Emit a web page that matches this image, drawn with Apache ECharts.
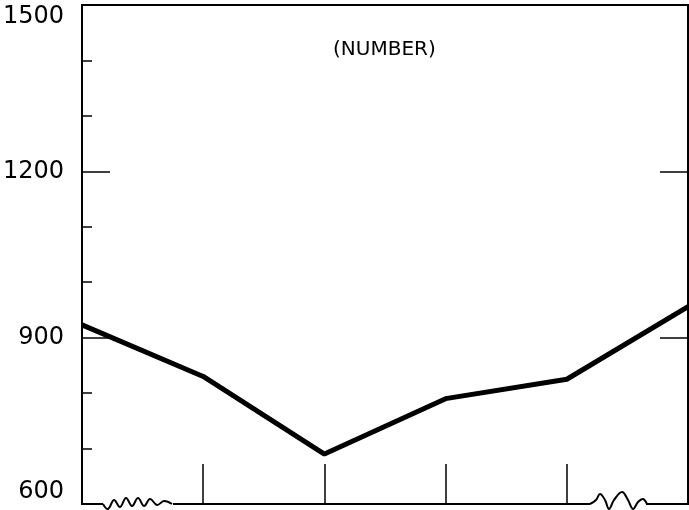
<!DOCTYPE html>
<html>
<head>
<meta charset="utf-8">
<script src="https://cdn.jsdelivr.net/npm/echarts@6/dist/echarts.min.js"></script>
<style>html,body{margin:0;padding:0;background:#fff}#c{width:689px;height:510px}</style>
</head>
<body>
<div id="c"></div>
<script>
const categories = ['P1', 'P2', 'P3', 'P4', 'P5', 'P6'];
const values = [923, 830, 690, 790, 825, 956];
const yTickLabels = [600, 900, 1200, 1500];
const unitLabel = '(NUMBER)';

const chart = echarts.init(document.getElementById('c'));
chart.setOption({
  animation: false,
  grid: { left: 82, right: 1, top: 5, bottom: 6, show: true, borderColor: '#000', borderWidth: 2, outerBoundsMode: 'none', containLabel: false },
  title: { text: unitLabel, left: 328, top: 35, textStyle: { fontFamily: 'DejaVu Sans', fontSize: 20, fontWeight: 'normal', color: '#000' } },
  xAxis: {
    type: 'category', data: categories, boundaryGap: false,
    axisLine: { lineStyle: { color: '#000', width: 2 } },
    axisTick: { inside: true, length: 40, lineStyle: { color: '#000', width: 1.5 }, interval: (i) => i > 0 && i < categories.length - 1 },
    axisLabel: { show: false }, splitLine: { show: false }
  },
  yAxis: [
    {
      type: 'value', min: 600, max: 1500, interval: 300, position: 'left',
      axisLine: { show: true, lineStyle: { color: '#000', width: 2 } },
      axisTick: { show: false },
      axisLabel: {
        margin: 18, fontFamily: 'DejaVu Sans', fontSize: 24, color: '#000',
        verticalAlignMinLabel: 'bottom', verticalAlignMaxLabel: 'top',
        formatter: (v) => yTickLabels.includes(v) ? String(v) : ''
      },
      splitLine: { show: false }
    },
    {
      type: 'value', min: 600, max: 1500, interval: 300, position: 'left',
      axisLine: { show: false },
      axisTick: { show: true, inside: true, length: 28, lineStyle: { color: '#000', width: 1.5 } },
      minorTick: { show: true, splitNumber: 3, length: 10, lineStyle: { color: '#000', width: 1.5 } },
      axisLabel: { show: false }, splitLine: { show: false }, minorSplitLine: { show: false }
    },
    {
      type: 'value', min: 600, max: 1500, interval: 300, position: 'right',
      axisLine: { show: true, lineStyle: { color: '#000', width: 2 } },
      axisTick: { show: true, inside: true, length: 28, lineStyle: { color: '#000', width: 1.5 } },
      axisLabel: { show: false }, splitLine: { show: false }
    }
  ],
  series: [{
    type: 'line', data: values, yAxisIndex: 0, symbol: 'none',
    lineStyle: { color: '#000', width: 5 }
  }],
  graphic: [
    { type: 'rect', shape: { x: 103, y: 500, width: 70, height: 8 }, style: { fill: '#fff' }, z: 100 },
    { type: 'polyline', shape: { points: [[103,504],[108,509],[114,500],[120,507],[126,498],[132,506],[138,498],[144,506],[150,499],[157,505],[164,501],[172,504]], smooth: 0.4 }, style: { stroke: '#000', lineWidth: 2, fill: null }, z: 101 },
    { type: 'rect', shape: { x: 590, y: 499, width: 56, height: 8 }, style: { fill: '#fff' }, z: 100 },
    { type: 'polyline', shape: { points: [[590,504],[596,500],[600,494],[605,500],[609,509],[614,500],[622,492],[628,500],[633,509],[638,502],[643,499],[647,504]], smooth: 0.4 }, style: { stroke: '#000', lineWidth: 2, fill: null }, z: 101 }
  ]
});
</script>
</body>
</html>
